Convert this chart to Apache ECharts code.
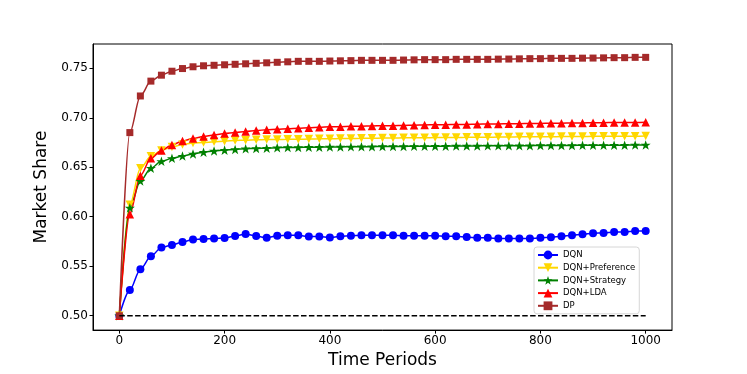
<!DOCTYPE html>
<html>
<head>
<meta charset="utf-8">
<script src="https://cdn.jsdelivr.net/npm/echarts@6/dist/echarts.min.js"></script>
<style>
  html, body { margin: 0; padding: 0; background: #fff; }
  #chart { width: 747px; height: 374px; }
</style>
</head>
<body>
<div id="chart"></div>
<script>
"use strict";
// time periods where the markers sit (every 20 steps)
const periods = [0, 20, 40, 60, 80, 100, 120, 140, 160, 180, 200, 220, 240, 260, 280, 300, 320, 340, 360, 380,
  400, 420, 440, 460, 480, 500, 520, 540, 560, 580, 600, 620, 640, 660, 680, 700, 720, 740, 760, 780,
  800, 820, 840, 860, 880, 900, 920, 940, 960, 980, 1000];

const dqn = [0.500, 0.526, 0.547, 0.560, 0.569, 0.5715, 0.5745, 0.577, 0.5775, 0.578, 0.5785, 0.5805, 0.5825, 0.5805,
  0.5788, 0.5807, 0.5813, 0.5813, 0.580, 0.580, 0.579, 0.5803, 0.5807, 0.5813, 0.5813, 0.5813, 0.5813, 0.5807,
  0.5807, 0.5807, 0.5807, 0.5803, 0.5803, 0.5795, 0.5787, 0.5787, 0.578, 0.578, 0.578, 0.578, 0.5787, 0.5793,
  0.5803, 0.5813, 0.5823, 0.5833, 0.5837, 0.5847, 0.5847, 0.5857, 0.5857];

const dqnPref = [0.500, 0.612, 0.649, 0.661, 0.667, 0.6705, 0.673, 0.6745, 0.675, 0.6757, 0.6763, 0.677, 0.6773,
  0.6777, 0.678, 0.678, 0.6782, 0.6783, 0.6785, 0.6787, 0.6788, 0.679, 0.679, 0.6792, 0.6793, 0.6795, 0.6795,
  0.6797, 0.6797, 0.6798, 0.680, 0.680, 0.680, 0.6802, 0.6803, 0.6803, 0.6805, 0.6805, 0.6807, 0.6807, 0.6808,
  0.6808, 0.681, 0.681, 0.681, 0.6812, 0.6812, 0.6812, 0.6813, 0.6813, 0.6815];

const dqnStrat = [0.500, 0.609, 0.636, 0.649, 0.656, 0.659, 0.6613, 0.6635, 0.6652, 0.6665, 0.6673, 0.668, 0.6687,
  0.669, 0.6693, 0.6697, 0.670, 0.670, 0.6702, 0.6703, 0.6705, 0.6705, 0.6707, 0.6708, 0.6708, 0.671, 0.671,
  0.671, 0.6712, 0.6712, 0.6713, 0.6713, 0.6715, 0.6715, 0.6715, 0.6717, 0.6717, 0.6718, 0.6718, 0.6718, 0.672,
  0.672, 0.672, 0.672, 0.6722, 0.6722, 0.6722, 0.6723, 0.6723, 0.6725, 0.6725];

const dqnLda = [0.500, 0.6025, 0.6415, 0.659, 0.667, 0.6725, 0.6765, 0.679, 0.681, 0.6825, 0.684, 0.685, 0.686,
  0.687, 0.688, 0.6885, 0.689, 0.6895, 0.690, 0.6905, 0.691, 0.691, 0.6913, 0.6915, 0.6917, 0.692, 0.692, 0.6923,
  0.6925, 0.6927, 0.693, 0.693, 0.6932, 0.6933, 0.6935, 0.6937, 0.6938, 0.694, 0.694, 0.6942, 0.6943, 0.6945,
  0.6945, 0.6947, 0.6948, 0.695, 0.695, 0.6952, 0.6952, 0.6953, 0.6955];

const dp = [0.500, 0.685, 0.722, 0.737, 0.743, 0.747, 0.7497, 0.7515, 0.7525, 0.753, 0.7535, 0.754, 0.7545, 0.755,
  0.7555, 0.756, 0.7565, 0.757, 0.757, 0.757, 0.7573, 0.7575, 0.7577, 0.758, 0.758, 0.758, 0.758, 0.7583, 0.7585,
  0.7587, 0.7587, 0.7587, 0.759, 0.759, 0.759, 0.759, 0.7592, 0.7593, 0.7595, 0.7597, 0.7597, 0.760, 0.760, 0.760,
  0.7602, 0.7603, 0.7605, 0.7607, 0.7607, 0.761, 0.761];

const baseline = [[0, 0.5], [1000, 0.5]];
const xTicks = [0, 200, 400, 600, 800, 1000];
const yTicks = [0.50, 0.55, 0.60, 0.65, 0.70, 0.75];

const STAR = "path://M50,0 L61.8,34.5 L97.6,34.5 L68.8,55.9 L79.4,90.5 L50,69.1 L20.6,90.5 L31.2,55.9 L2.4,34.5 L38.2,34.5 Z";
const FONT = "DejaVu Sans";

const pairs = (ys) => periods.map((x, i) => [x, ys[i]]);
const line = (name, ys, color, symbol, size, extra) => Object.assign({
  name, type: "line", data: pairs(ys), color,
  symbol, symbolSize: size, symbolKeepAspect: true,
  smooth: 0.3, smoothMonotone: "x",
  lineStyle: {width: 1.5, color}, itemStyle: {color},
  emphasis: {disabled: true}, animation: false,
}, extra || {});

const chart = echarts.init(document.getElementById("chart"), null, {renderer: "canvas"});
chart.setOption({
  backgroundColor: "#fff",
  textStyle: {fontFamily: FONT, color: "#000"},
  grid: {left: 93, right: 75, top: 44, bottom: 41, show: true, borderColor: "#000", borderWidth: 1},
  legend: {
    orient: "vertical", left: 534, top: 247,
    padding: [2.5, 4, 2.5, 3], itemGap: 1.7, itemWidth: 20, itemHeight: 11,
    backgroundColor: "rgba(255,255,255,0.8)", borderColor: "#d6d6d6", borderWidth: 1, borderRadius: 3,
    textStyle: {fontFamily: FONT, fontSize: 8.5, lineHeight: 11, color: "#000"},
    data: ["DQN", "DQN+Preference", "DQN+Strategy", "DQN+LDA", "DP"],
  },
  xAxis: {
    type: "value", min: -50, max: 1050,
    name: "Time Periods", nameLocation: "middle", nameGap: 21,
    nameTextStyle: {fontFamily: FONT, fontSize: 17, color: "#000"},
    axisLine: {show: true, onZero: false, lineStyle: {color: "#000", width: 1}},
    axisTick: {show: true, length: 3.5, lineStyle: {color: "#000"}, customValues: xTicks},
    axisLabel: {fontFamily: FONT, fontSize: 12, color: "#000", margin: 5, customValues: xTicks,
      formatter: (v) => String(v)},
    splitLine: {show: false},
  },
  yAxis: {
    type: "value", min: 0.4855, max: 0.7745,
    name: "Market Share", nameLocation: "middle", nameGap: 34,
    nameTextStyle: {fontFamily: FONT, fontSize: 17, color: "#000"},
    axisLine: {show: true, onZero: false, lineStyle: {color: "#000", width: 1}},
    axisTick: {show: true, length: 3.5, lineStyle: {color: "#000"}, customValues: yTicks},
    axisLabel: {fontFamily: FONT, fontSize: 12, color: "#000", margin: 5, customValues: yTicks,
      formatter: (v) => v.toFixed(2)},
    splitLine: {show: false},
  },
  series: [
    line("DQN", dqn, "#0000ff", "circle", 8),
    line("DQN+Preference", dqnPref, "#ffd700", "triangle", 8.5, {symbolRotate: 180}),
    line("DQN+Strategy", dqnStrat, "#008000", STAR, 10),
    line("DQN+LDA", dqnLda, "#ff0000", "triangle", 8.5),
    line("DP", dp, "#a52a2a", "rect", 7),
    {
      name: "baseline", type: "line", data: baseline, symbol: "none", z: 5,
      lineStyle: {color: "#000", width: 1.5, type: [5.5, 2.4]},
      emphasis: {disabled: true}, animation: false, silent: true,
    },
  ],
});
</script>
</body>
</html>
